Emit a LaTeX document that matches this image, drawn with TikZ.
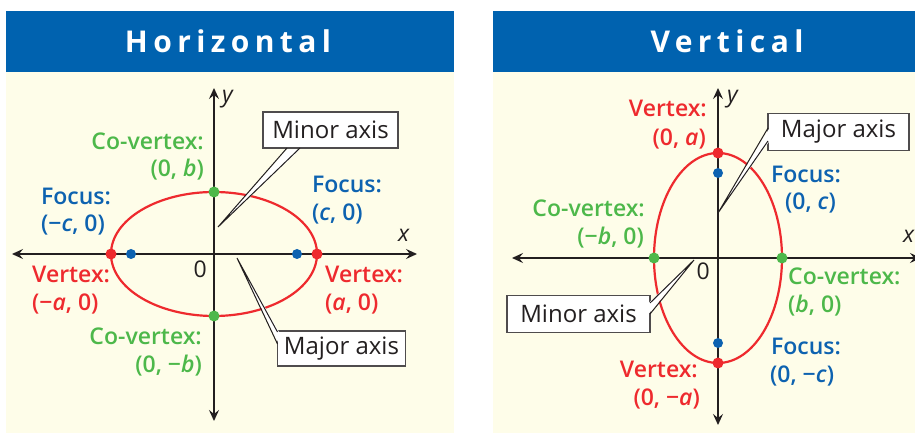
\documentclass[tikz,border=0pt]{standalone}
\usepackage{fontspec}
\setmainfont{Open Sans}
\newfontfamily\headfont{Open Sans}[LetterSpace=18]
\IfFontExistsTF{Open Sans SemiBold}{%
  \newfontfamily\semifont{Open Sans SemiBold}[ItalicFont={Open Sans SemiBold Italic}]}{%
  \IfFontExistsTF{Open Sans Semibold}{%
    \newfontfamily\semifont{Open Sans Semibold}[ItalicFont={Open Sans Semibold Italic}]}{%
    \newcommand\semifont{\bfseries}}}
\usetikzlibrary{arrows.meta}
\definecolor{hblue}{HTML}{0062AF}
\definecolor{cream}{HTML}{FEFDE9}
\definecolor{vred}{HTML}{EE2A2E}
\definecolor{vgreen}{HTML}{4DB84A}
\definecolor{fblue}{HTML}{0D62B0}
\definecolor{axisc}{HTML}{231F20}
\begin{document}
\begin{tikzpicture}[x=1bp,y=-1bp,
  lbl/.style={inner sep=0pt, font=\fontsize{23bp}{27bp}\semifont},
  redl/.style={lbl, text=vred},
  grnl/.style={lbl, text=vgreen},
  blul/.style={lbl, text=fblue},
  plain/.style={inner sep=0pt, text=axisc, font=\fontsize{23bp}{27bp}\selectfont},
  head/.style={inner sep=0pt, text=white, font=\fontsize{30bp}{32bp}\headfont\bfseries},
  axis/.style={draw=axisc, line width=1.8bp, {Stealth[length=11bp,width=10bp,inset=4bp]}-{Stealth[length=11bp,width=10bp,inset=4bp]}},
  ell/.style={draw=vred, line width=2.2bp},
  dotR/.style={circle, fill=vred, inner sep=0pt, minimum size=11bp},
  dotG/.style={circle, fill=vgreen, inner sep=0pt, minimum size=11bp},
  dotB/.style={circle, fill=fblue, inner sep=0pt, minimum size=10bp},
  callbox/.style={draw=axisc!80, fill=white, line width=1.2bp, inner sep=0pt, text=axisc, font=\fontsize{24bp}{27bp}\selectfont},
  wedge/.style={draw=axisc, line width=1bp},
]
\clip (0,0) rectangle (915,433);
\fill[white] (0,0) rectangle (915,433);
% panels
\fill[hblue] (6,11) rectangle (454,72);
\fill[cream] (6,72) rectangle (454,433);
\fill[hblue] (493,11) rectangle (915,72);
\fill[cream] (493,72) rectangle (915,433);
\node[head, anchor=base] (hH) at (228,53) {Horizontal};
\node[head, anchor=base] (hV) at (727,53) {Vertical};

%% ---------------- Horizontal ----------------
\coordinate (LxL) at (12,254);
\coordinate (LxR) at (417,254);
\coordinate (LyT) at (214,88);
\coordinate (LyB) at (214,421);
\draw[axis] (LxL) -- (LxR);
\draw[axis] (LyB) -- (LyT);
\draw[ell] (214,254) ellipse [x radius=103bp, y radius=62bp];
\node[dotR] (LV1) at (111,254) {};
\node[dotR] (LV2) at (317,254) {};
\node[dotB] (LF1) at (131,254) {};
\node[dotB] (LF2) at (297,254) {};
\node[dotG] (LC1) at (214,192) {};
\node[dotG] (LC2) at (214,316) {};
\node[plain, anchor=base east] (L0) at (207,278) {0};
\node[plain, anchor=base west] (Lx) at (398,242) {\itshape x};
\node[plain, anchor=base west] (Ly) at (222,103) {\itshape y};

\node[grnl, anchor=base east] (LC1a) at (204,150) {Co-vertex:};
\node[grnl, anchor=base east] (LC1b) at (204,177) {(0, \textit{b})};
\node[blul, anchor=base west] (LF1a) at (41,205) {Focus:};
\node[blul, anchor=base west] (LF1b) at (41,232) {(−\textit{c}, 0)};
\node[blul, anchor=base west] (LF2a) at (312,193) {Focus:};
\node[blul, anchor=base west] (LF2b) at (312,221) {(\textit{c}, 0)};
\node[redl, anchor=base west] (LV1a) at (32,283) {Vertex:};
\node[redl, anchor=base west] (LV1b) at (32,311) {(−\textit{a}, 0)};
\node[redl, anchor=base west] (LV2a) at (325,283) {Vertex:};
\node[redl, anchor=base west] (LV2b) at (325,311) {(\textit{a}, 0)};
\node[grnl, anchor=base east] (LC2a) at (202,345) {Co-vertex:};
\node[grnl, anchor=base east] (LC2b) at (202,373) {(0, −\textit{b})};

% Minor axis callout
\node[callbox, minimum width=135bp, minimum height=36bp] (LMin) at (330.5,130) {Minor axis};
\coordinate (LMinT) at (218,227);
\coordinate (LMinA) at (287,148);
\coordinate (LMinB) at (300,148);
\fill[white] (LMinT) -- ([yshift=-1.5bp]LMinA) -- ([yshift=-1.5bp]LMinB) -- cycle;
\draw[wedge] (LMinA) -- (LMinT) -- (LMinB);
% Major axis callout
\node[callbox, minimum width=128bp, minimum height=35bp] (LMaj) at (341.5,348.5) {Major axis};
\coordinate (LMajT) at (237,258);
\coordinate (LMajA) at (277.5,332);
\coordinate (LMajB) at (277.5,344);
\fill[white] (LMajT) -- ([xshift=1.5bp]LMajA) -- ([xshift=1.5bp]LMajB) -- cycle;
\draw[wedge] (LMajA) -- (LMajT) -- (LMajB);

%% ---------------- Vertical ----------------
\coordinate (RxL) at (512,258);
\coordinate (RxR) at (921,258);
\coordinate (RyT) at (718,88);
\coordinate (RyB) at (718,425);
\draw[axis] (RxL) -- (RxR);
\draw[axis] (RyB) -- (RyT);
\draw[ell] (718,258) ellipse [x radius=64bp, y radius=105bp];
\node[dotR] (RV1) at (718,153) {};
\node[dotR] (RV2) at (718,363) {};
\node[dotB] (RF1) at (718,173) {};
\node[dotB] (RF2) at (718,343) {};
\node[dotG] (RC1) at (654,258) {};
\node[dotG] (RC2) at (782,258) {};
\node[plain, anchor=base east] (R0) at (710,280) {0};
\node[plain, anchor=base west] (Rx) at (903,243) {\itshape x};
\node[plain, anchor=base west] (Ry) at (727,103) {\itshape y};

\node[redl, anchor=base east] (RV1a) at (707,117) {Vertex:};
\node[redl, anchor=base east] (RV1b) at (706,146) {(0, \textit{a})};
\node[blul, anchor=base west] (RF1a) at (771,183) {Focus:};
\node[blul, anchor=base west] (RF1b) at (785,210) {(0, \textit{c})};
\node[grnl, anchor=base east] (RC1a) at (645,217) {Co-vertex:};
\node[grnl, anchor=base east] (RC1b) at (644,245) {(−\textit{b}, 0)};
\node[grnl, anchor=base west] (RC2a) at (788,285) {Co-vertex:};
\node[grnl, anchor=base west] (RC2b) at (788,313) {(\textit{b}, 0)};
\node[blul, anchor=base west] (RF2a) at (771,355) {Focus:};
\node[blul, anchor=base west] (RF2b) at (770,383) {(0, −\textit{c})};
\node[redl, anchor=base east] (RV2a) at (698,378) {Vertex:};
\node[redl, anchor=base east] (RV2b) at (700,405) {(0, −\textit{a})};

% Major axis callout
\node[callbox, minimum width=141bp, minimum height=37bp] (RMaj) at (838.5,132) {Major axis};
\coordinate (RMajT) at (718,213);
\coordinate (RMajA) at (768,128);
\coordinate (RMajB) at (768,141);
\fill[white] (RMajT) -- ([xshift=1.5bp]RMajA) -- ([xshift=1.5bp]RMajB) -- cycle;
\draw[wedge] (RMajA) -- (RMajT) -- (RMajB);
% Minor axis callout
\node[callbox, minimum width=143bp, minimum height=37bp] (RMin) at (578.5,314) {Minor axis};
\coordinate (RMinT) at (694,260);
\coordinate (RMinA) at (650,303);
\coordinate (RMinB) at (650,314);
\fill[white] (RMinT) -- ([xshift=-1.5bp]RMinA) -- ([xshift=-1.5bp]RMinB) -- cycle;
\draw[wedge] (RMinA) -- (RMinT) -- (RMinB);
\end{tikzpicture}
\end{document}
